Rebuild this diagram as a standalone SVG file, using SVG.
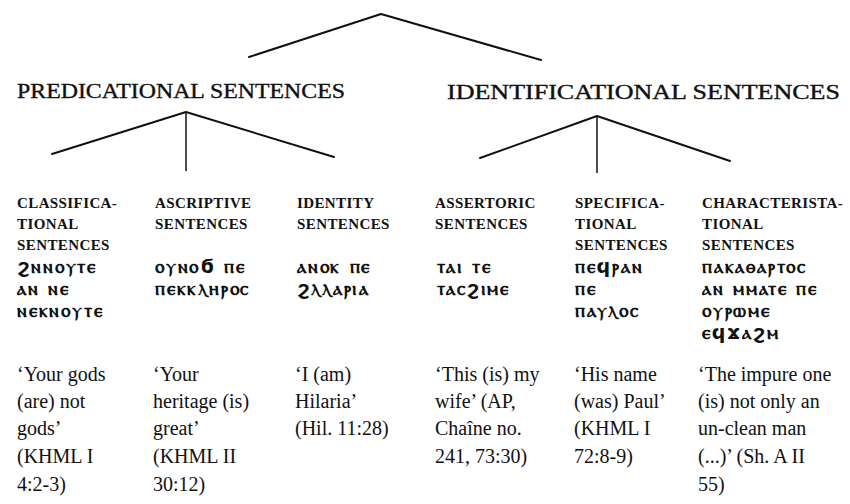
<svg xmlns="http://www.w3.org/2000/svg" width="850" height="504" viewBox="0 0 850 504">
  <style>
    .tree { fill: none; stroke: #111; stroke-width: 2; stroke-linecap: round; stroke-linejoin: round; }
    .stem { fill: none; stroke: #111; stroke-width: 1.5; }
    .cat { font-family: "Liberation Serif", "Times New Roman", serif; font-size: 20px; fill: #111; stroke: #111; stroke-width: 0.35; }
    .sub { font-family: "Liberation Serif", "Times New Roman", serif; font-size: 15px; font-weight: bold; letter-spacing: 0.4px; fill: #111; }
    .cop { font-family: "DejaVu Sans", "Noto Sans", sans-serif; font-size: 19px; font-weight: bold; letter-spacing: 1.8px; fill: #111; }
    .gl { font-family: "Liberation Serif", "Times New Roman", serif; font-size: 20px; fill: #111; }
  </style>

  <!-- branching lines of the classification tree -->
  <g id="connectors">
    <polyline class="tree" points="249,57 381,14 541,60"/>
    <polyline class="tree" points="52,154 186,112 334,157"/>
    <line class="stem" x1="186" y1="112" x2="186" y2="171"/>
    <polyline class="tree" points="480,158 597,116 730,161"/>
    <line class="stem" x1="597" y1="116" x2="597" y2="173"/>
  </g>

  <g id="predicational">
    <text class="cat" x="17" y="98" textLength="328" lengthAdjust="spacingAndGlyphs">PREDICATIONAL SENTENCES</text>
  </g>
  <g id="identificational">
    <text class="cat" x="447" y="99" textLength="393" lengthAdjust="spacingAndGlyphs">IDENTIFICATIONAL SENTENCES</text>
  </g>

  <g id="classificational">
    <text class="sub" x="17" y="208">CLASSIFICA-</text>
    <text class="sub" x="17" y="229">TIONAL</text>
    <text class="sub" x="17" y="250">SENTENCES</text>
    <text class="cop" x="17" y="273">ϩⲛⲛⲟⲩⲧⲉ</text>
    <text class="cop" x="17" y="295">ⲁⲛ ⲛⲉ</text>
    <text class="cop" x="17" y="317">ⲛⲉⲕⲛⲟⲩⲧⲉ</text>
    <text class="gl" x="17" y="381">‘Your gods</text>
    <text class="gl" x="17" y="408">(are) not</text>
    <text class="gl" x="17" y="435">gods’</text>
    <text class="gl" x="17" y="463">(KHML I</text>
    <text class="gl" x="17" y="491">4:2-3)</text>
  </g>

  <g id="ascriptive">
    <text class="sub" x="155" y="208">ASCRIPTIVE</text>
    <text class="sub" x="155" y="229">SENTENCES</text>
    <text class="cop" x="155" y="273">ⲟⲩⲛⲟϭ ⲡⲉ</text>
    <text class="cop" x="155" y="295">ⲡⲉⲕⲕⲗⲏⲣⲟⲥ</text>
    <text class="gl" x="153" y="381">‘Your</text>
    <text class="gl" x="153" y="408">heritage (is)</text>
    <text class="gl" x="153" y="435">great’</text>
    <text class="gl" x="153" y="463">(KHML II</text>
    <text class="gl" x="153" y="491">30:12)</text>
  </g>

  <g id="identity">
    <text class="sub" x="297" y="208">IDENTITY</text>
    <text class="sub" x="297" y="229">SENTENCES</text>
    <text class="cop" x="297" y="273">ⲁⲛⲟⲕ ⲡⲉ</text>
    <text class="cop" x="297" y="295">ϩⲗⲗⲁⲣⲓⲁ</text>
    <text class="gl" x="295" y="381">‘I (am)</text>
    <text class="gl" x="295" y="408">Hilaria’</text>
    <text class="gl" x="295" y="435">(Hil. 11:28)</text>
  </g>

  <g id="assertoric">
    <text class="sub" x="435" y="208">ASSERTORIC</text>
    <text class="sub" x="435" y="229">SENTENCES</text>
    <text class="cop" x="437" y="273">ⲧⲁⲓ ⲧⲉ</text>
    <text class="cop" x="437" y="295">ⲧⲁⲥϩⲓⲙⲉ</text>
    <text class="gl" x="435" y="381">‘This (is) my</text>
    <text class="gl" x="435" y="408">wife’ (AP,</text>
    <text class="gl" x="435" y="435">Chaîne no.</text>
    <text class="gl" x="435" y="463">241, 73:30)</text>
  </g>

  <g id="specificational">
    <text class="sub" x="575" y="208">SPECIFICA-</text>
    <text class="sub" x="575" y="229">TIONAL</text>
    <text class="sub" x="575" y="250">SENTENCES</text>
    <text class="cop" x="575" y="273">ⲡⲉϥⲣⲁⲛ</text>
    <text class="cop" x="575" y="295">ⲡⲉ</text>
    <text class="cop" x="575" y="317">ⲡⲁⲩⲗⲟⲥ</text>
    <text class="gl" x="574" y="381">‘His name</text>
    <text class="gl" x="574" y="408">(was) Paul’</text>
    <text class="gl" x="574" y="435">(KHML I</text>
    <text class="gl" x="574" y="463">72:8-9)</text>
  </g>

  <g id="characteristational">
    <text class="sub" x="702" y="208">CHARACTERISTA-</text>
    <text class="sub" x="702" y="229">TIONAL</text>
    <text class="sub" x="702" y="250">SENTENCES</text>
    <text class="cop" x="702" y="273">ⲡⲁⲕⲁⲑⲁⲣⲧⲟⲥ</text>
    <text class="cop" x="702" y="295">ⲁⲛ ⲙⲙⲁⲧⲉ ⲡⲉ</text>
    <text class="cop" x="702" y="317">ⲟⲩⲣⲱⲙⲉ</text>
    <text class="cop" x="702" y="339">ⲉϥϫⲁϩⲙ</text>
    <text class="gl" x="698" y="381">‘The impure one</text>
    <text class="gl" x="698" y="408">(is) not only an</text>
    <text class="gl" x="698" y="435">un-clean man</text>
    <text class="gl" x="698" y="463">(...)’ (Sh. A II</text>
    <text class="gl" x="698" y="491">55)</text>
  </g>
</svg>
